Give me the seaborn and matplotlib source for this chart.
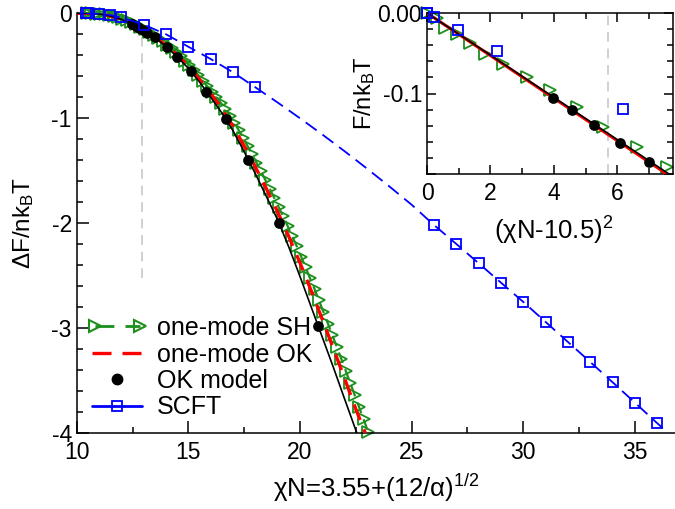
import numpy as np
import pandas as pd
import matplotlib
matplotlib.use("Agg")
import matplotlib.pyplot as plt
import seaborn as sns
from matplotlib.lines import Line2D
from matplotlib.legend_handler import HandlerLine2D
from matplotlib.ticker import MultipleLocator, FixedLocator

sns.set_theme(style="ticks")
plt.rcParams['font.family'] = ['Liberation Sans', 'DejaVu Sans']
plt.rcParams['mathtext.fontset'] = 'custom'
plt.rcParams['mathtext.rm'] = 'Liberation Sans'
plt.rcParams['mathtext.it'] = 'Liberation Sans:italic'

# ---------------- main panel data ----------------
# one-mode SH (green triangles)
sh_x = [10.45, 10.65, 10.85, 11.05, 11.25, 11.45, 11.65, 11.85, 12.05, 12.25,
        12.45, 12.65, 12.85, 13.05, 13.25, 13.45, 13.65, 13.85, 14.05, 14.25,
        14.45, 14.65, 14.85, 15.05, 15.25, 15.45, 15.65, 15.85, 16.05, 16.25,
        16.45, 16.65, 16.85, 17.05, 17.25, 17.45, 17.65, 17.85, 18.05, 18.25,
        18.45, 18.65, 18.85, 19.05, 19.25, 19.45, 19.65, 19.85, 20.05, 20.25,
        20.45, 20.65, 20.85, 21.05, 21.25, 21.45, 21.65, 21.85, 22.05, 22.25,
        22.45, 22.65, 22.85, 23.05]
sh_y = [0.0, -0.001, -0.002, -0.005, -0.011, -0.018, -0.028, -0.039, -0.053, -0.068,
        -0.086, -0.105, -0.127, -0.150, -0.176, -0.203, -0.233, -0.264, -0.298, -0.333,
        -0.370, -0.409, -0.452, -0.494, -0.543, -0.593, -0.644, -0.698, -0.746, -0.800,
        -0.855, -0.910, -0.976, -1.042, -1.113, -1.189, -1.265, -1.345, -1.425, -1.507,
        -1.591, -1.675, -1.763, -1.851, -1.937, -2.031, -2.125, -2.220, -2.320, -2.422,
        -2.528, -2.629, -2.739, -2.849, -2.959, -3.071, -3.183, -3.297, -3.411, -3.526,
        -3.642, -3.758, -3.874, -3.991]

# one-mode OK (red dashed)
okm_x = [10.0, 10.5, 11.0, 11.5, 12.0, 12.5, 13.0, 13.5, 14.0, 14.5, 15.0, 15.5,
         16.0, 16.5, 17.0, 17.5, 18.0, 18.5, 19.0, 19.5, 20.0, 20.5, 21.0, 21.5,
         22.0, 22.5, 22.92]
okm_y = [0.0, 0.0, -0.006, -0.025, -0.056, -0.100, -0.157, -0.224, -0.305, -0.398,
         -0.505, -0.630, -0.765, -0.910, -1.075, -1.265, -1.465, -1.675, -1.895,
         -2.130, -2.380, -2.645, -2.920, -3.200, -3.485, -3.775, -4.000]

# OK model theory curve (black solid, no legend entry)
okline_x = [10.0, 10.5, 11.0, 11.5, 12.0, 12.5, 13.0, 13.5, 14.0, 14.5, 15.0, 15.5,
            16.0, 16.5, 17.0, 17.5, 18.0, 18.5, 19.0, 19.5, 20.0, 20.5, 21.0, 21.5,
            22.0, 22.54]
okline_y = [0.0, 0.0, -0.007, -0.026, -0.058, -0.104, -0.163, -0.232, -0.316, -0.414,
            -0.525, -0.655, -0.800, -0.950, -1.120, -1.320, -1.530, -1.750, -1.970,
            -2.230, -2.510, -2.800, -3.090, -3.380, -3.680, -4.000]

# OK model (black dots)
okdot_x = [12.49, 12.64, 12.80, 12.97, 13.15, 13.51, 14.04, 14.50, 15.12, 15.79,
           16.69, 17.68, 19.07, 20.81]
okdot_y = [-0.106, -0.124, -0.142, -0.164, -0.185, -0.226, -0.321, -0.417, -0.550,
           -0.750, -1.008, -1.400, -2.000, -2.980]

# SCFT (blue dashed line, open squares)
scft_x = [10.4, 10.5, 11.0, 11.5, 12.0, 13.0, 14.0, 15.0, 16.0, 17.0, 18.0, 19.0,
          20.0, 21.0, 22.0, 23.0, 24.0, 25.0, 26.0, 27.0, 28.0, 29.0, 30.0, 31.0,
          32.0, 33.0, 34.0, 35.0, 36.0, 37.0]
scft_y = [0.0, 0.0, -0.003, -0.017, -0.040, -0.108, -0.200, -0.319, -0.436, -0.563,
          -0.706, -0.851, -1.001, -1.156, -1.316, -1.481, -1.651, -1.826, -2.019,
          -2.200, -2.384, -2.569, -2.753, -2.944, -3.135, -3.326, -3.519, -3.714,
          -3.910, -4.100]
scft_marked = [True, True, True, True, True, True, True, True, True, True, True,
               False, False, False, False, False, False, False, True, True, True,
               True, True, True, True, True, True, True, True, False]

main_guide_x = 12.91
main_guide_y = (-0.17, -2.52)

# ---------------- inset data ----------------
in_sh_x = [0.0, 0.306, 0.568, 0.937, 1.356, 1.83, 2.41, 3.17, 3.88, 4.72, 5.56, 6.62, 7.56]
in_sh_y = [0.0, -0.0066, -0.019, -0.0265, -0.0369, -0.0505, -0.063, -0.080, -0.096,
           -0.117, -0.141, -0.167, -0.191]
in_okm_x = [0.0, 8.0]
in_okm_y = [0.0, -0.2115]
in_okline_x = [0.0, 8.0]
in_okline_y = [0.0, -0.2096]
in_okdot_x = [3.97, 4.58, 5.27, 6.09, 7.01]
in_okdot_y = [-0.105, -0.121, -0.139, -0.161, -0.185]
in_scft_x = [0.0, 0.01, 0.22, 0.99, 2.22, 6.19]
in_scft_y = [0.0, 0.0, -0.005, -0.021, -0.0475, -0.119]
in_guide_x = 5.72

GREEN = '#1c8f1c'
RED = '#ff0000'
BLUE = '#0000ff'
GRAY = '#d0d0d0'
TICK_FS = 16.5
XLABEL_FS = 18.5
YLABEL_FS = 17.5
LEG_FS = 18

fig = plt.figure(figsize=(6.75, 5.09), dpi=100)
ax = fig.add_axes([76.7 / 675, (509 - 432.7) / 509, (675 - 76.7) / 675, (432.7 - 13.3) / 509])
ax.set_facecolor('white')

# guide line
ax.vlines(main_guide_x, main_guide_y[1], main_guide_y[0], colors=GRAY,
          linestyles=(0, (5, 3.5)), linewidth=1.4, zorder=1)

df_sh = pd.DataFrame({'x': sh_x, 'y': sh_y})
sns.lineplot(data=df_sh, x='x', y='y', ax=ax, estimator=None, sort=False,
             color=GREEN, linewidth=1.6, linestyle=(0, (5, 3)),
             marker='>', markersize=8, markerfacecolor='none',
             markeredgecolor=GREEN, markeredgewidth=1.3, clip_on=False, zorder=2)

df_okm = pd.DataFrame({'x': okm_x, 'y': okm_y})
sns.lineplot(data=df_okm, x='x', y='y', ax=ax, estimator=None, sort=False,
             color=RED, linewidth=2.4, linestyle=(0, (5, 3)), zorder=3)

df_okl = pd.DataFrame({'x': okline_x, 'y': okline_y})
sns.lineplot(data=df_okl, x='x', y='y', ax=ax, estimator=None, sort=False,
             color='black', linewidth=1.2, zorder=4)

df_okd = pd.DataFrame({'x': okdot_x, 'y': okdot_y})
sns.scatterplot(data=df_okd, x='x', y='y', ax=ax, color='black', s=60,
                edgecolor='black', linewidth=0, zorder=5, clip_on=False)

df_scft = pd.DataFrame({'x': scft_x, 'y': scft_y, 'm': scft_marked})
sns.lineplot(data=df_scft, x='x', y='y', ax=ax, estimator=None, sort=False,
             color=BLUE, linewidth=1.3, linestyle=(0, (7.5, 4)), zorder=6)
sns.lineplot(data=df_scft[df_scft['m']], x='x', y='y', ax=ax, estimator=None,
             sort=False, color=BLUE, linestyle='none', marker='s', markersize=7.5,
             markerfacecolor='none', markeredgecolor=BLUE, markeredgewidth=1.3,
             clip_on=False, zorder=7)

ax.set_xlim(10, 10 + (675 - 76.7) / 22.33)
ax.set_ylim(-4, 0)
ax.xaxis.set_major_locator(MultipleLocator(5))
ax.xaxis.set_minor_locator(MultipleLocator(2.5))
ax.yaxis.set_major_locator(MultipleLocator(1))
ax.yaxis.set_minor_locator(MultipleLocator(0.2))
ax.tick_params(which='both', direction='in', width=1.1, colors='black', labelsize=TICK_FS)
ax.tick_params(which='major', length=8.5)
ax.tick_params(which='minor', length=4.3)
ax.tick_params(axis='x', which='both', pad=6.0)
ax.tick_params(axis='y', which='both', pad=3.5)
for s in ['top', 'right']:
    ax.spines[s].set_visible(False)
for s in ['left', 'bottom']:
    ax.spines[s].set_linewidth(1.1)
    ax.spines[s].set_color('black')
ax.set_xticklabels([f'{int(v)}' for v in ax.get_xticks()])
ax.set_yticks([0, -1, -2, -3, -4])
ax.set_yticklabels(['0', '-1', '-2', '-3', '-4'])
ax.set_xlim(10, 10 + (675 - 76.7) / 22.33)

ax.set_xlabel('χN=3.55+(12/α)$^{\\mathregular{1/2}}$', fontsize=XLABEL_FS, color='black')
ax.xaxis.set_label_coords(0.5, -0.093)
ax.set_ylabel('ΔF/nk$_{\\mathregular{B}}$T', fontsize=YLABEL_FS, color='black')
ax.yaxis.set_label_coords(-0.068, 0.5)

# legend
h_sh = Line2D([], [], color=GREEN, lw=2.0, ls=(0, (6.8, 4.0)), marker='>', ms=8,
              mfc='none', mec=GREEN, mew=1.5)
h_okm = Line2D([], [], color=RED, lw=2.4, ls=(0, (5.7, 3.3)))
h_dot = Line2D([], [], color='black', ls='none', marker='o', ms=7.5)
h_scft = Line2D([], [], color=BLUE, lw=2.0, ls='-', marker='s', ms=6.5,
                mfc='none', mec=BLUE, mew=1.3)
leg = ax.legend([h_sh, h_okm, h_dot, h_scft],
                ['one-mode SH', 'one-mode OK', 'OK model', 'SCFT'],
                handler_map={h_sh: HandlerLine2D(numpoints=2, marker_pad=0.1),
                             h_dot: HandlerLine2D(numpoints=1),
                             h_scft: HandlerLine2D(numpoints=1)},
                frameon=False, loc='upper left',
                bbox_to_anchor=(92 / 675, 1 - 316 / 509),
                bbox_transform=fig.transFigure, fontsize=LEG_FS,
                handlelength=2.0, handletextpad=0.6, labelspacing=0.1,
                borderpad=0, borderaxespad=0)
for t in leg.get_texts():
    t.set_color('black')

# ---------------- inset ----------------
axin = fig.add_axes([427 / 675, 1 - 174 / 509, 246 / 675, 161 / 509])
axin.set_facecolor('white')
axin.axvline(in_guide_x, color=GRAY, ls=(0, (5, 3.5)), lw=1.4, zorder=1)
sns.lineplot(x=in_sh_x, y=in_sh_y, ax=axin, estimator=None, sort=False,
             color=GREEN, linestyle='none', marker='>', markersize=8,
             markerfacecolor='none', markeredgecolor=GREEN, markeredgewidth=1.3,
             clip_on=False, zorder=2)
sns.lineplot(x=in_okm_x, y=in_okm_y, ax=axin, estimator=None, sort=False,
             color=RED, linewidth=2.2, zorder=3)
sns.lineplot(x=in_okline_x, y=in_okline_y, ax=axin, estimator=None, sort=False,
             color='black', linewidth=1.2, zorder=4)
sns.scatterplot(x=in_okdot_x, y=in_okdot_y, ax=axin, color='black', s=60,
                edgecolor='black', linewidth=0, zorder=5)
sns.lineplot(x=in_scft_x, y=in_scft_y, ax=axin, estimator=None, sort=False,
             color=BLUE, linestyle='none', marker='s', markersize=7.5,
             markerfacecolor='none', markeredgecolor=BLUE, markeredgewidth=1.3,
             clip_on=False, zorder=6)
axin.set_xlim(0, 246 / 31.7)
axin.set_ylim(-0.2, 0)
axin.xaxis.set_major_locator(FixedLocator([0, 2, 4, 6]))
axin.xaxis.set_minor_locator(FixedLocator([1, 3, 5, 7]))
axin.yaxis.set_major_locator(FixedLocator([0, -0.1, -0.2]))
axin.yaxis.set_minor_locator(MultipleLocator(0.02))
axin.set_xticklabels(['0', '2', '4', '6'])
axin.set_yticklabels(['0.00', '-0.1', ''])
axin.tick_params(which='both', direction='in', width=1.1, colors='black',
                 labelsize=TICK_FS, top=True, right=True)
axin.tick_params(which='major', length=6.5)
axin.tick_params(which='minor', length=4.5)
axin.tick_params(axis='x', which='both', pad=6.0)
axin.tick_params(axis='y', which='both', pad=3.5)
for s in axin.spines.values():
    s.set_visible(True)
    s.set_linewidth(1.1)
    s.set_color('black')
axin.set_xlabel('(χN-10.5)$^{\\mathregular{2}}$', fontsize=XLABEL_FS, color='black')
axin.xaxis.set_label_coords(0.516, -0.255)
axin.set_ylabel('F/nk$_{\\mathregular{B}}$T', fontsize=17, color='black')
axin.yaxis.set_label_coords(-0.203, 0.5)

fig.savefig('out.png', dpi=100)
